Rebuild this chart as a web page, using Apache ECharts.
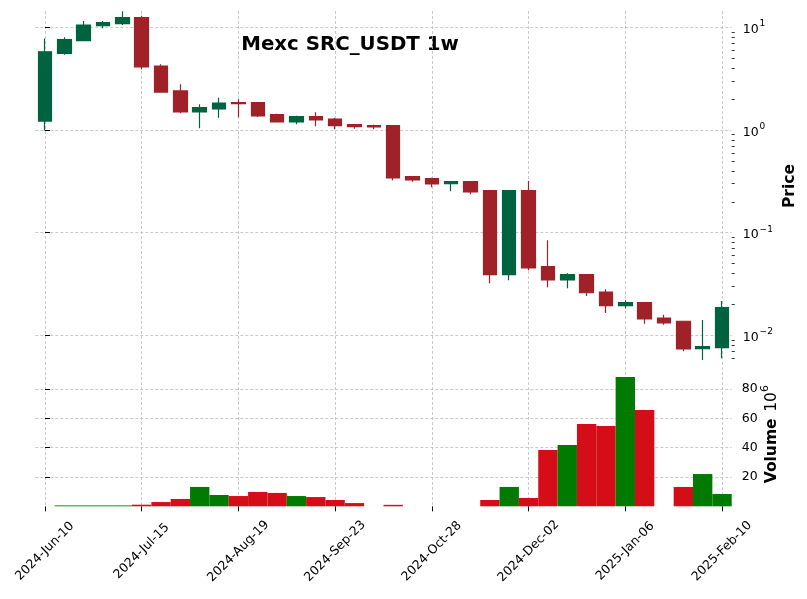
<!DOCTYPE html>
<html><head><meta charset="utf-8">
<script src="https://cdn.jsdelivr.net/npm/echarts@6/dist/echarts.min.js"></script>
<style>html,body{margin:0;padding:0;background:#fff}#c{width:807px;height:599px}</style>
</head><body><div id="c"></div>
<script>
const weeks = ['2024-Jun-10','2024-Jun-17','2024-Jun-24','2024-Jul-01','2024-Jul-08','2024-Jul-15','2024-Jul-22','2024-Jul-29','2024-Aug-05','2024-Aug-12','2024-Aug-19','2024-Aug-26','2024-Sep-02','2024-Sep-09','2024-Sep-16','2024-Sep-23','2024-Sep-30','2024-Oct-07','2024-Oct-14','2024-Oct-21','2024-Oct-28','2024-Nov-04','2024-Nov-11','2024-Nov-18','2024-Nov-25','2024-Dec-02','2024-Dec-09','2024-Dec-16','2024-Dec-23','2024-Dec-30','2025-Jan-06','2025-Jan-13','2025-Jan-20','2025-Jan-27','2025-Feb-03','2025-Feb-10'];
const openP  = [1.22,5.58,7.41,10.36,10.84,12.41,4.20,2.40,1.497,1.601,1.844,1.844,1.409,1.196,1.347,1.28,1.126,1.101,1.101,0.351,0.3357,0.300,0.3138,0.2564,0.039,0.2564,0.0467,0.0346,0.039,0.02646,0.01946,0.0208,0.01477,0.01372,0.00742,0.00759];
const highP  = [7.8,7.99,11.5,11.5,14.3,12.97,4.36,2.79,1.778,2.06,1.99,1.86,1.441,1.378,1.487,1.318,1.126,1.126,1.101,0.351,0.343,0.318,0.3138,0.2604,0.2564,0.318,0.0843,0.0402,0.0395,0.0281,0.022,0.0208,0.0159,0.0138,0.0141,0.0216];
const lowP   = [0.99,5.41,7.41,9.78,10.53,3.90,2.34,1.454,1.039,1.318,1.33,1.339,1.196,1.136,1.086,1.016,1.03,1.016,0.3237,0.314,0.2767,0.253,0.2365,0.0322,0.0344,0.043,0.0294,0.0288,0.0242,0.01652,0.01836,0.013,0.0127,0.0070,0.00576,0.00598];
const closeP = [5.78,7.57,10.53,11.09,12.41,4.11,2.34,1.497,1.649,1.832,1.803,1.369,1.196,1.347,1.251,1.101,1.077,1.07,0.341,0.326,0.298,0.3138,0.249,0.039,0.2564,0.0453,0.0346,0.039,0.026,0.01946,0.0208,0.01444,0.0132,0.00737,0.00776,0.0186];
const volume = [0,0.6,0.6,0.6,0.6,1.1,2.9,5.0,13.2,7.7,7.0,9.8,9.1,7.0,6.3,4.3,2.2,0,1.0,0,0,0,0,4.3,13.2,5.7,38.4,41.8,56.1,54.7,88.1,65.6,0,13.2,22.0,8.4];
const xTickIdx = [0,5,10,15,20,25,30,35];
const priceTicks = [0.01,0.1,1,10];
const priceMinorTicks = [0.006,0.007,0.008,0.009,0.02,0.03,0.04,0.05,0.06,0.07,0.08,0.09,0.2,0.3,0.4,0.5,0.6,0.7,0.8,0.9,2,3,4,5,6,7,8,9];
const volumeTicks = [20,40,60,80];

const FONT = '"DejaVu Sans", sans-serif';
const gridLine = {show:true, lineStyle:{color:'#bdbdbd', width:0.8, type:[3,2]}};
const supNum = {
  b:{fontFamily:FONT, fontSize:12.5, color:'#000', lineHeight:18, verticalAlign:'bottom'},
  s:{fontFamily:FONT, fontSize:9, color:'#000', lineHeight:18, verticalAlign:'top', padding:[1,0,0,1]}
};
const chart = echarts.init(document.getElementById('c'), null, {renderer:'canvas'});
const option = {
  animation:false,
  backgroundColor:'#fff',
  grid:[
    {left:35.3, width:696.4, top:11, height:350, outerBoundsMode:'none', containLabel:false},
    {left:35.3, width:696.4, top:362, height:144.3, outerBoundsMode:'none', containLabel:false}
  ],
  graphic:[{type:'text', x:350, y:45, style:{text:'Mexc SRC_USDT 1w', fontFamily:FONT, fontSize:19.8, fontWeight:'bold', fill:'#000', textAlign:'center', textVerticalAlign:'middle'}}],
  xAxis:[
    {type:'value', gridIndex:0, min:-0.5, max:35.5, axisLine:{show:false},
     axisTick:{show:false, customValues:xTickIdx}, axisLabel:{show:false, customValues:xTickIdx}, splitLine:gridLine},
    {type:'value', gridIndex:1, min:-0.5, max:35.5, axisLine:{show:false},
     axisTick:{show:true, length:5, customValues:xTickIdx, lineStyle:{color:'#000', width:1}},
     axisLabel:{customValues:xTickIdx, formatter:v=>weeks[Math.round(v)], rotate:45, align:'center', verticalAlign:'middle', margin:45, fontFamily:FONT, fontSize:12.5, color:'#000'},
     splitLine:gridLine}
  ],
  yAxis:[
    {type:'log', logBase:10, gridIndex:0, position:'right', min:0.00563, max:14.41,
     axisLine:{show:false},
     axisTick:{show:true, length:5, customValues:priceTicks, lineStyle:{color:'#000', width:1}},
     axisLabel:{customValues:priceTicks, margin:11, formatter:v=>{const e=Math.round(Math.log10(v)); return '{b|10}{s|'+(e<0?'\u2212'+(-e):e)+'}';}, rich:supNum},
     splitLine:gridLine,
     name:'Price', nameLocation:'middle', nameRotate:90, nameGap:50, nameMoveOverlap:false,
     nameTextStyle:{fontFamily:FONT, fontSize:15.5, fontWeight:'bold', color:'#000'}},
    {type:'log', logBase:10, gridIndex:0, position:'right', min:0.00563, max:14.41,
     axisLine:{show:false},
     axisTick:{show:true, length:3, customValues:priceMinorTicks, lineStyle:{color:'#000', width:0.8}},
     axisLabel:{show:false}, splitLine:{show:false}},
    {type:'value', gridIndex:1, position:'right', min:0, max:98.4,
     axisLine:{show:false},
     axisTick:{show:true, length:5, customValues:volumeTicks, lineStyle:{color:'#000', width:1}},
     axisLabel:{customValues:volumeTicks, margin:10, fontFamily:FONT, fontSize:12.5, color:'#000'},
     splitLine:gridLine,
     name:'{v|Volume}  {n|10}{s|6}', nameLocation:'middle', nameRotate:90, nameGap:28, nameMoveOverlap:false,
     nameTextStyle:{rich:{
       v:{fontFamily:FONT, fontSize:15.5, fontWeight:'bold', color:'#000', lineHeight:20, verticalAlign:'bottom'},
       n:{fontFamily:FONT, fontSize:15.5, color:'#000', lineHeight:20, verticalAlign:'bottom'},
       s:{fontFamily:FONT, fontSize:11, color:'#000', lineHeight:20, verticalAlign:'top'}}}}
  ],
  series:[
    {type:'candlestick', xAxisIndex:0, yAxisIndex:0, barWidth:14,
     data: weeks.map((w,i)=>[i, openP[i], closeP[i], lowP[i], highP[i]]),
     encode:{x:0, y:[1,2,3,4]},
     itemStyle:{color:'#006340', color0:'#a02128', borderColor:'#006340', borderColor0:'#a02128', borderWidth:1.2}},
    {type:'bar', xAxisIndex:1, yAxisIndex:2, barWidth:19.34,
     data: volume.map((v,i)=>({value:[i,v], itemStyle:{color: closeP[i]>=openP[i] ? '#007a00' : '#d50d18'}}))}
  ]
};
chart.setOption(option);
</script></body></html>
